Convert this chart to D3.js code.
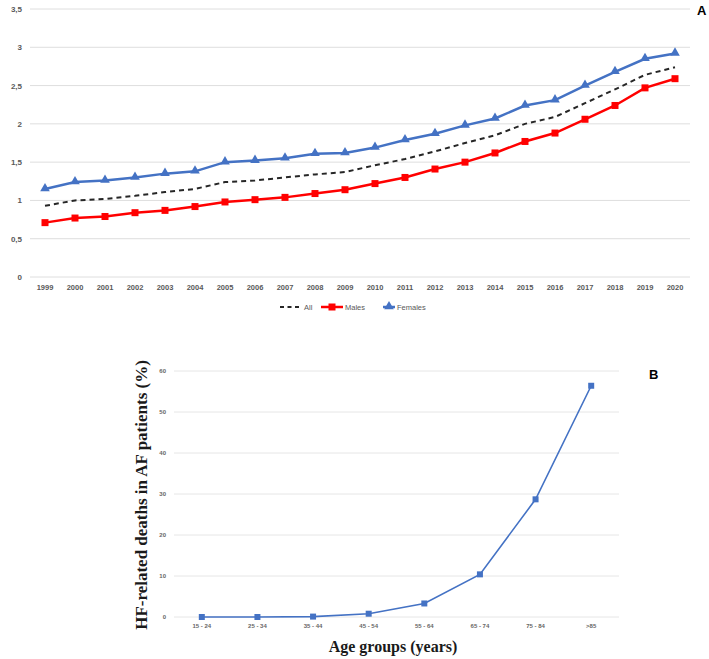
<!DOCTYPE html>
<html><head><meta charset="utf-8">
<script src="https://cdn.jsdelivr.net/npm/d3@7"></script>
<style>body{margin:0;background:#fff}svg{display:block}</style>
</head><body>
<svg id="c" width="709" height="659"></svg>
<script>
const years = ["1999","2000","2001","2002","2003","2004","2005","2006","2007","2008","2009","2010","2011","2012","2013","2014","2015","2016","2017","2018","2019","2020"];
const allVals = [0.93,1.00,1.02,1.06,1.11,1.15,1.24,1.26,1.30,1.34,1.37,1.46,1.54,1.64,1.75,1.85,2.00,2.09,2.27,2.45,2.64,2.74];
const maleVals = [0.71,0.77,0.79,0.84,0.87,0.92,0.98,1.01,1.04,1.09,1.14,1.22,1.30,1.41,1.50,1.62,1.77,1.88,2.06,2.24,2.47,2.59];
const femaleVals = [1.15,1.24,1.26,1.30,1.35,1.38,1.50,1.52,1.55,1.61,1.62,1.69,1.79,1.87,1.98,2.07,2.24,2.31,2.50,2.68,2.85,2.92];
const topTicks = [0,0.5,1,1.5,2,2.5,3,3.5];

const ageGroups = ["15 - 24","25 - 34","35 - 44","45 - 54","55 - 64","65 - 74","75 - 84",">85"];
const hfVals = [0.0,0.0,0.1,0.8,3.3,10.4,28.7,56.4];
const bottomTicks = [0,10,20,30,40,50,60];

const svg = d3.select("#c");
const tickFont = "Liberation Sans, Arial, sans-serif";

// ---------- Chart A ----------
const xA = d3.scaleBand().domain(years).range([30,690]);
const yA = d3.scaleLinear().domain([0,3.5]).range([277,9]);
const gA = svg.append("g");
gA.selectAll("line.grid").data(topTicks).join("line")
  .attr("x1",30).attr("x2",690).attr("y1",d=>yA(d)).attr("y2",d=>yA(d))
  .attr("stroke","#dedede").attr("stroke-width",1);
const axYA = gA.append("g").attr("transform","translate(30,0)")
  .call(d3.axisLeft(yA).tickValues(topTicks).tickSize(0).tickPadding(8).tickFormat(d=>String(d).replace(".",",")));
axYA.select(".domain").remove();
axYA.selectAll("text").attr("font-family",tickFont).attr("font-size",8).attr("font-weight","bold").attr("fill","#595959");
const axXA = gA.append("g").attr("transform","translate(0,277)")
  .call(d3.axisBottom(xA).tickSize(0).tickPadding(8));
axXA.select(".domain").remove();
axXA.selectAll("text").attr("font-family",tickFont).attr("font-size",7.5).attr("font-weight","bold").attr("fill","#595959");

const lineA = d3.line().x((d,i)=>xA(years[i])+xA.bandwidth()/2).y(d=>yA(d));
gA.append("path").datum(allVals).attr("d",lineA).attr("fill","none")
  .attr("stroke","#262626").attr("stroke-width",2).attr("stroke-dasharray","5,4");
gA.append("path").datum(maleVals).attr("d",lineA).attr("fill","none")
  .attr("stroke","#ff0000").attr("stroke-width",2.5);
gA.append("path").datum(femaleVals).attr("d",lineA).attr("fill","none")
  .attr("stroke","#4472c4").attr("stroke-width",2.5);
gA.selectAll("rect.m").data(maleVals).join("rect")
  .attr("x",(d,i)=>xA(years[i])+xA.bandwidth()/2-3.5).attr("y",d=>yA(d)-3.5)
  .attr("width",7).attr("height",7).attr("fill","#ff0000");
const tri = d3.symbol().type(d3.symbolTriangle).size(40);
gA.selectAll("path.f").data(femaleVals).join("path")
  .attr("transform",(d,i)=>`translate(${xA(years[i])+xA.bandwidth()/2},${yA(d)-0.5})`)
  .attr("d",tri).attr("fill","#4472c4");

// legend
const lg = svg.append("g").attr("font-family",tickFont).attr("font-size",7.5).attr("fill","#595959");
lg.append("line").attr("x1",280).attr("x2",302).attr("y1",307).attr("y2",307)
  .attr("stroke","#262626").attr("stroke-width",2).attr("stroke-dasharray","4,3.5");
lg.append("text").attr("x",304).attr("y",310).text("All");
lg.append("line").attr("x1",321).attr("x2",343).attr("y1",307).attr("y2",307)
  .attr("stroke","#ff0000").attr("stroke-width",2.5);
lg.append("rect").attr("x",328.5).attr("y",303.5).attr("width",7).attr("height",7).attr("fill","#ff0000");
lg.append("text").attr("x",345).attr("y",310).text("Males");
lg.append("line").attr("x1",383).attr("x2",395).attr("y1",307).attr("y2",307)
  .attr("stroke","#4472c4").attr("stroke-width",2.5);
lg.append("path").attr("transform","translate(389,306.5)").attr("d",tri).attr("fill","#4472c4");
lg.append("text").attr("x",397).attr("y",310).text("Females");

svg.append("text").attr("x",697).attr("y",15).attr("font-family",tickFont)
  .attr("font-size",13).attr("font-weight","bold").attr("fill","#000").text("A");

// ---------- Chart B ----------
const xB = d3.scaleBand().domain(ageGroups).range([174,619]);
const yB = d3.scaleLinear().domain([0,60]).range([617,371]);
const gB = svg.append("g");
gB.selectAll("line.grid").data(bottomTicks).join("line")
  .attr("x1",174).attr("x2",619).attr("y1",d=>yB(d)).attr("y2",d=>yB(d))
  .attr("stroke","#e6e6e6").attr("stroke-width",1);
const axYB = gB.append("g").attr("transform","translate(174,0)")
  .call(d3.axisLeft(yB).tickValues(bottomTicks).tickSize(0).tickPadding(8));
axYB.select(".domain").remove();
axYB.selectAll("text").attr("font-family",tickFont).attr("font-size",6).attr("font-weight","bold").attr("fill","#666");
const axXB = gB.append("g").attr("transform","translate(0,617)")
  .call(d3.axisBottom(xB).tickSize(0).tickPadding(7));
axXB.select(".domain").remove();
axXB.selectAll("text").attr("font-family",tickFont).attr("font-size",6).attr("font-weight","bold").attr("fill","#666");

const lineB = d3.line().x((d,i)=>xB(ageGroups[i])+xB.bandwidth()/2).y(d=>yB(d));
gB.append("path").datum(hfVals).attr("d",lineB).attr("fill","none")
  .attr("stroke","#4472c4").attr("stroke-width",1.6);
gB.selectAll("rect.h").data(hfVals).join("rect")
  .attr("x",(d,i)=>xB(ageGroups[i])+xB.bandwidth()/2-3).attr("y",d=>yB(d)-3)
  .attr("width",6).attr("height",6).attr("fill","#4472c4");

svg.append("text").attr("transform","translate(147,495) rotate(-90)").attr("text-anchor","middle")
  .attr("font-family","Liberation Serif, Times New Roman, serif").attr("font-size",17)
  .attr("font-weight","bold").attr("fill","#1a1a1a").text("HF-related deaths in AF patients (%)");
svg.append("text").attr("x",393).attr("y",652).attr("text-anchor","middle")
  .attr("font-family","Liberation Serif, Times New Roman, serif").attr("font-size",16)
  .attr("font-weight","bold").attr("fill","#1a1a1a").text("Age groups (years)");
svg.append("text").attr("x",649).attr("y",379).attr("font-family",tickFont)
  .attr("font-size",13).attr("font-weight","bold").attr("fill","#000").text("B");
</script>
</body></html>
